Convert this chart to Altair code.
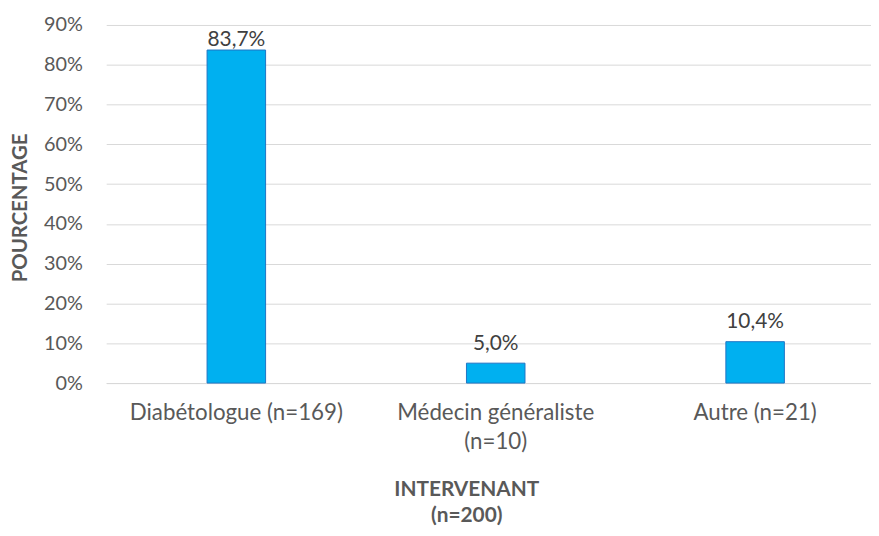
import altair as alt
import pandas as pd

categories = ["Diabétologue (n=169)", "Médecin généraliste|(n=10)", "Autre (n=21)"]
values = [83.7, 5.0, 10.4]
y_ticks = [0, 10, 20, 30, 40, 50, 60, 70, 80, 90]

df = pd.DataFrame({"cat": categories, "val": values})

FONT = "Lato"
GREY = "#595959"

x = alt.X(
    "cat:N",
    sort=categories,
    scale=alt.Scale(paddingInner=0.7744, paddingOuter=0.3614, align=0.538),
    axis=alt.Axis(
        title=["INTERVENANT", "(n=200)"],
        titleFont=FONT, titleFontSize=21, titleFontWeight="bold", titleColor=GREY,
        titleX=363, titleY=96, titleAnchor="start", titleAlign="center",
        titleBaseline="top", titleLineHeight=27,
        labelExpr="split(datum.label, '|')",
        labelFont=FONT, labelFontSize=22.5, labelColor=GREY, labelLineHeight=29,
        labelPadding=19, labelAngle=0, labelLimit=0, ticks=False,
        domainColor="#D9D9D9", domainWidth=1,
    ),
)
y = alt.Y(
    "val:Q",
    scale=alt.Scale(domain=[0, 90], nice=False),
    axis=alt.Axis(
        title="POURCENTAGE",
        titleFont=FONT, titleFontSize=20.5, titleFontWeight="bold", titleColor=GREY,
        titleX=-86, titleY=184, titleAngle=270, titleAlign="center", titleBaseline="middle",
        values=y_ticks, labelExpr="datum.value + '%'",
        labelFont=FONT, labelFontSize=20, labelColor=GREY, labelPadding=24,
        ticks=False, domain=False, gridColor="#D9D9D9", gridWidth=1,
    ),
)

base = alt.Chart(df)
bars = base.mark_bar(color="#00B0F0", stroke="#1F74C4", strokeWidth=1).encode(x=x, y=y)
labels = base.mark_text(font=FONT, fontSize=21, color="#404040", baseline="alphabetic").transform_calculate(
    lab="replace(format(datum.val, '.1f'), '.', ',') + '%'",
    ly="min(datum.val + 3.4, 84.6)",
).encode(x=alt.X("cat:N", sort=categories), y="ly:Q", text="lab:N")

chart = (bars + labels).properties(
    width=771, height=361,
    autosize=alt.AutoSizeParams(type="none"),
    padding={"left": 99, "top": 15, "right": 0, "bottom": 143},
).configure_view(stroke=None)

chart.save("out.html", embed_options={"renderer": "svg", "actions": False})
